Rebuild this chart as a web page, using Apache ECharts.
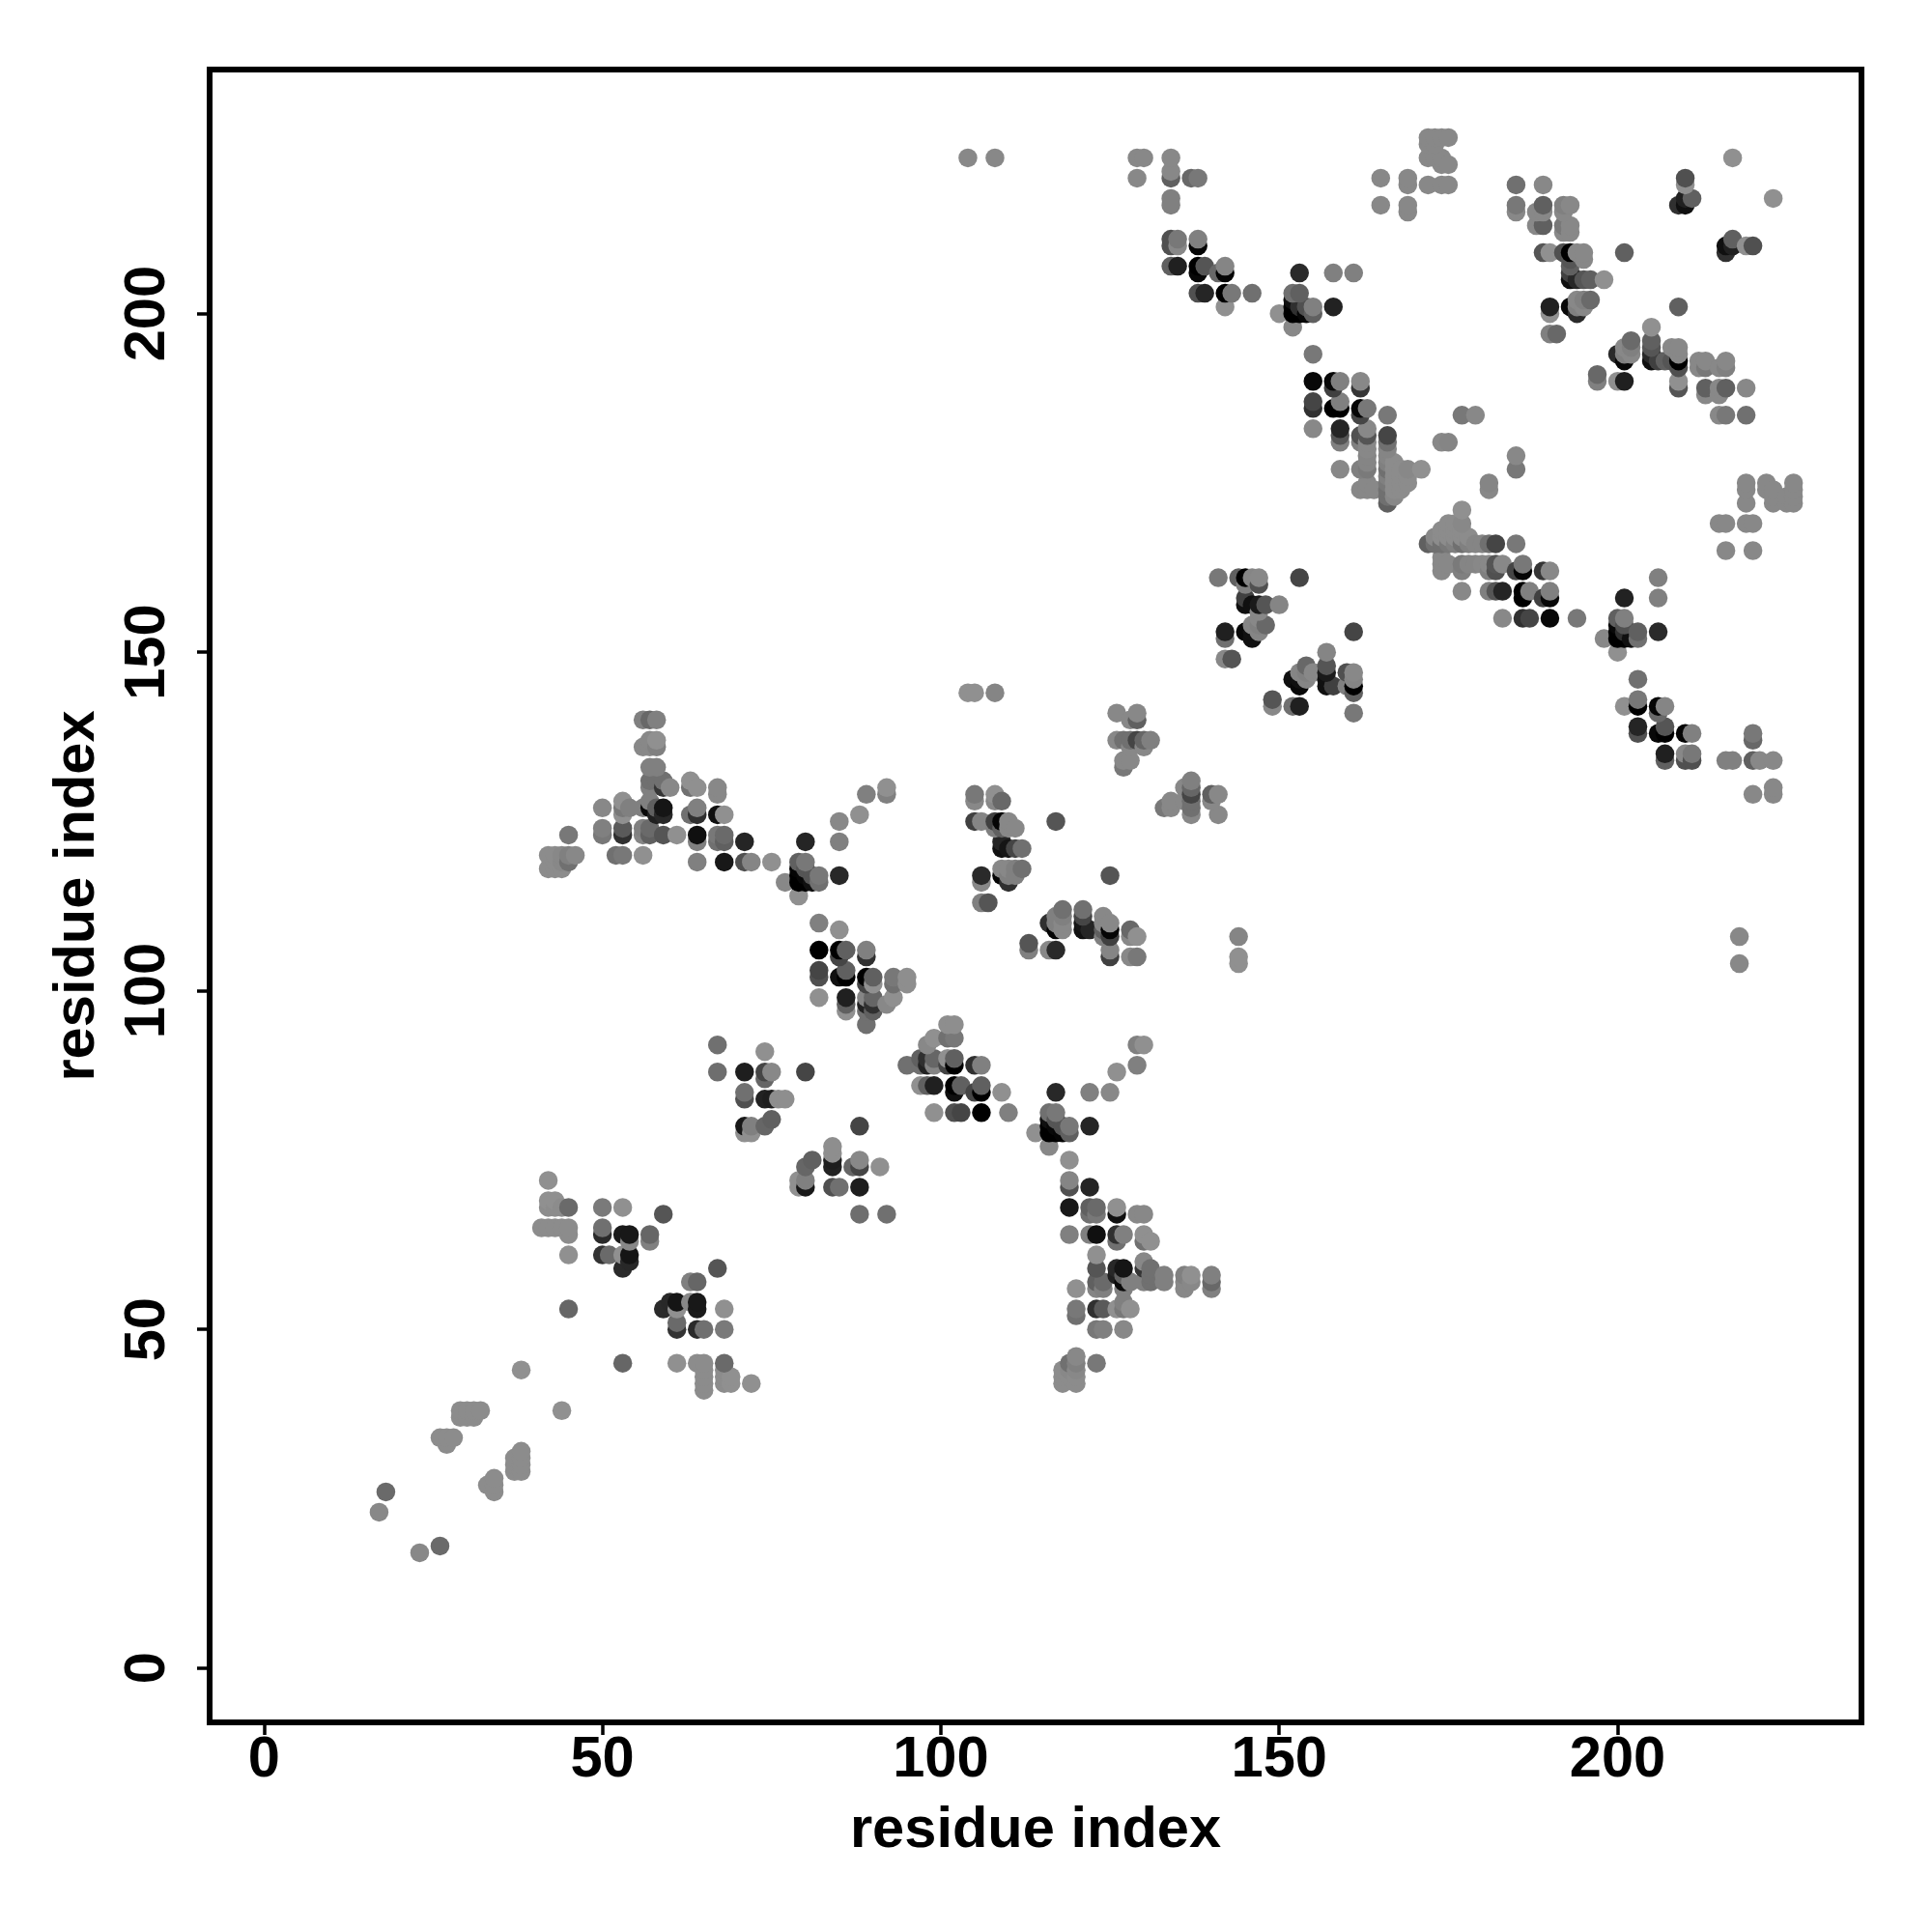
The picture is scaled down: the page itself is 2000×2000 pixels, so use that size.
<!DOCTYPE html>
<html><head><meta charset="utf-8">
<style>html,body{margin:0;padding:0;background:#fff}#c{width:2000px;height:2000px}</style>
<script src="https://cdn.jsdelivr.net/npm/echarts@6/dist/echarts.min.js"></script>
</head><body><div id="c"></div>
<script>
// Contacts [residue a, residue b, grey level]; the map is symmetric, each one is plotted at (a,b) and (b,a).
const axisTicks = [0, 50, 100, 150, 200];
const contactsLow = [[17,23,0x88],[18,26,0x6a],[29,38,0x8c],[30,38,0x8c],[31,38,0x8c],[32,38,0x8c],[29,37,0x8c],[30,37,0x8c],[31,37,0x8c],[26,34,0x8c],[27,34,0x8c],[28,34,0x8c],[27,33,0x8c],[38,44,0x90]];
const contactsA = [[42,72,0x90],[42,69,0x90],[43,69,0x90],[42,68,0x8c],[43,68,0x8c],[44,68,0x8c],[45,68,0x6a],[41,65,0x8c],[42,65,0x8c],[43,65,0x8c],[44,65,0x8c],[45,65,0x8c],[45,64,0x8c],[45,61,0x90],[45,53,0x66],
[50,68,0x7a],[53,68,0x90],[59,67,0x55],[50,65,0x70],[50,64,0x2a],[53,64,0x1a],[54,64,0x18],[54,63,0x88],[57,64,0x66],[57,63,0x80],[50,61,0x33],[51,61,0x6a],[53,61,0x90],[54,61,0x15],[54,60,0x28],[53,59,0x2a]];
const contactsB = [[67,92,0x70],[67,88,0x6e],[74,91,0x90],[71,88,0x1e],[74,88,0x45],[75,88,0x88],[74,87,0x66],[80,88,0x45],[71,85,0x70],[71,84,0x50],[74,84,0x22],[75,84,0x1e],[76,84,0x8e],[77,84,0x8e],[71,80,0x18],[72,80,0x80],[71,79,0x90],[72,79,0x90],[74,80,0x66],[75,81,0x60],
[84,77,0x90],[84,76,0x90],[84,75,0x30],[84,74,0x22],[88,75,0x80],[87,74,0x70],[88,74,0x3a],[91,74,0x90],[81,75,0x66],[80,74,0x66],[80,72,0x70],[79,72,0x90],[80,71,0x15],[79,71,0x90],[84,71,0x60],[85,71,0x7a],[88,71,0x20],[88,67,0x66],[92,67,0x72]];
const contactsC = [[101,95,0x8e],[102,95,0x8e],[101,93,0x70],[102,93,0x78],[99,93,0x90],[98,92,0x88],[95,89,0x70],[97,90,0x60],[97,89,0x70],[98,90,0x30],[98,89,0x22],[99,90,0x66],[99,89,0x85],[101,90,0x90],[102,90,0x60],[101,89,0x44],[102,89,0x00],[105,89,0x30],[106,89,0x80],
[97,86,0x90],[98,86,0x60],[99,86,0x20],[102,86,0x00],[102,85,0x10],[103,86,0x60],[105,85,0x45],[106,86,0x60],[106,85,0x00],[109,85,0x90],[99,82,0x90],[102,82,0x50],[103,82,0x45],[106,82,0x00],[110,82,0x80]];
const contactsD = [[117,85,0x28],[116,82,0x70],[117,82,0x78],[116,81,0x10],[117,81,0x55],[118,80,0x55],[119,80,0x78],[119,79,0x60],[116,80,0x00],[116,79,0x00],[117,79,0x00],[118,79,0x05],[117,80,0x08],[122,80,0x25],[114,79,0x90],[116,77,0x88],[122,85,0x80],[125,85,0x88],[126,88,0x90],[129,89,0x80],[129,92,0x80],[130,92,0x90]];
const contactsE = [[119,75,0x90],[119,72,0x85],[119,71,0x50],[122,71,0x25],[119,68,0x18],[122,68,0x60],[123,68,0x6a],[122,67,0x70],[123,67,0x78],[126,68,0x90],[126,67,0x10],[129,67,0x88],[130,67,0x88],[119,64,0x80],[122,64,0x80],[123,64,0x10],[126,64,0x30],[127,64,0x80],[126,63,0x70],[130,64,0x90],[131,63,0x90],[130,63,0x70],
[123,61,0x90],[123,59,0x55],[126,59,0x28],[127,59,0x15],[130,60,0x88],[131,59,0x70],[130,59,0x35],[131,58,0x70],[131,57,0x70],[130,57,0x80],[133,58,0x80],[133,57,0x80],[136,58,0x80],[137,58,0x90],[136,57,0x88],[137,57,0x88],[136,56,0x88],[140,58,0x80],[140,57,0x68],[140,56,0x80],
[123,57,0x60],[124,57,0x6a],[123,56,0x85],[124,56,0x80],[120,56,0x90],[126,58,0x20],[127,58,0x60],[127,57,0x0a],[128,57,0x80],[127,56,0x80],[120,53,0x78],[120,52,0x70],[123,53,0x30],[124,53,0x5a],[126,53,0x90],[127,54,0x80],[127,53,0x78],[128,53,0x90],[123,50,0x78],[124,50,0x80],[127,50,0x88],[123,45,0x78],
[42,120,0x8c],[43,120,0x8c],[44,120,0x88],[45,120,0x80],[46,120,0x88],[43,119,0x8c],[44,119,0x88],[45,119,0x70],[42,118,0x8c],[43,118,0x8c],[44,118,0x8c]];
const contactsF = [[104,144,0x90],[105,144,0x90],[108,144,0x85],[105,129,0x78],[105,128,0x88],[108,129,0x90],[108,128,0x88],[109,128,0x68],[105,125,0x40],[106,125,0x85],[108,125,0x40],[108,124,0x80],[109,125,0x05],[110,125,0x88],[111,124,0x88],[110,124,0x88],[109,122,0x25],[109,121,0x10],[110,121,0x15],[111,121,0x45],[112,121,0x70],[109,118,0x88],[110,118,0x88],[111,118,0x80],[112,118,0x70],[109,117,0x05],[110,117,0x80],[111,117,0x80],[110,116,0x30],[106,117,0x2a],[106,116,0x88],[106,113,0x80],[107,113,0x55],[117,125,0x55],[109,124,0x60]];
const contactsG = [[126,141,0x88],[128,140,0x88],[129,141,0x88],[129,140,0x60],[126,137,0x88],[127,137,0x70],[128,137,0x70],[129,137,0x45],[130,137,0x66],[131,137,0x80],[130,136,0x88],[128,136,0x88],[127,134,0x88],[128,134,0x88],[127,133,0x78]];
const contactsH = [[141,161,0x78],[144,161,0x60],[145,161,0x00],[146,161,0x85],[147,161,0x88],[147,160,0x50],[145,160,0x80],[145,158,0x40],[145,157,0x10],[146,157,0x10],[147,157,0x1a],[148,157,0x55],[150,157,0x85],[147,156,0x88],[146,154,0x85],[147,154,0x80],[148,154,0x68],[147,153,0x85],[145,153,0x08],[146,152,0x10],[146,153,0x10],[142,153,0x20],[142,152,0x70],[142,149,0x88],[143,149,0x55],[153,161,0x45],
[157,150,0x85],[157,148,0x55],[157,147,0x45],[157,146,0x1a],[157,145,0x10],[158,145,0x33],[154,148,0x70],[153,147,0x88],[154,147,0x88],[155,147,0x88],[152,146,0x15],[153,146,0x88],[154,146,0x88],[153,145,0x10],[160,147,0x66],[161,147,0x88],[161,146,0x85],[160,145,0x80],[161,145,0x00],[161,144,0x50],[161,141,0x78],[149,143,0x50],[149,142,0x78],[152,142,0x88],[153,142,0x1a]];
const contactsI = [[155,190,0x08],[158,190,0x08],[159,190,0x80],[158,189,0x40],[162,190,0x88],[162,189,0x35],[155,187,0x45],[155,186,0x30],[158,186,0x00],[159,186,0x00],[159,187,0x80],[162,186,0x05],[163,186,0x78],[162,185,0x45],[166,185,0x78],[155,183,0x88],[155,194,0x78],[159,183,0x25],[159,182,0x55],[159,181,0x80],[162,182,0x50],[162,181,0x80],[163,183,0x88],[163,182,0x55],[163,181,0x88],[166,182,0x45],[166,181,0x70],[166,180,0x85],[166,179,0x85],[163,180,0x88],[163,179,0x85],[163,178,0x85],[163,177,0x7a],[159,177,0x88],[162,177,0x80],[162,174,0x88],[163,175,0x88],[163,174,0x88],[164,174,0x88]];
const contactsJ = [[166,172,0x60],[166,173,0x70],[166,174,0x70],[166,175,0x78],[166,176,0x80],[166,177,0x70],[166,178,0x80],[167,178,0x8c],[167,177,0x8c],[167,176,0x8c],[167,175,0x8c],[167,174,0x8c],[167,173,0x88],[168,177,0x8c],[168,176,0x8c],[168,175,0x8c],[168,174,0x8c],[169,177,0x88],[169,176,0x8c],[169,175,0x8c],[171,177,0x90],[177,185,0x78],[179,185,0x88],[174,181,0x88],[175,181,0x85]];
const contactsK = [[172,226,0x88],[173,226,0x88],[174,226,0x88],[175,226,0x88],[172,225,0x88],[173,225,0x88],[172,223,0x88],[173,223,0x88],[174,223,0x88],[174,222,0x88],[175,222,0x88],[172,219,0x88],[174,219,0x88],[175,219,0x88],[165,220,0x88],[165,216,0x88],[169,220,0x88],[169,219,0x88],[169,216,0x88],[169,215,0x88]];
const contactsL = [[153,206,0x2a],[152,203,0x70],[153,203,0x60],[152,202,0x10],[152,201,0x00],[152,200,0x00],[153,200,0x00],[154,200,0x08],[154,201,0x50],[153,201,0x30],[155,201,0x80],[155,200,0x60],[150,200,0x90],[152,198,0x88],[158,201,0x22],[158,206,0x80],[161,206,0x80],[146,203,0x70],
[143,203,0x78],[142,203,0x00],[142,201,0x90],[142,206,0x05],[142,207,0x85],[141,206,0x68],[139,203,0x25],[138,203,0x50],[139,207,0x55],[138,206,0x08],[138,207,0x00],[138,210,0x05],[138,211,0x80],[135,207,0x20],[134,207,0x60],[135,210,0x88],[135,211,0x78],[134,210,0x50],[134,211,0x50],[134,216,0x80],[134,217,0x80],[138,220,0x78],[137,220,0x68],[134,220,0x60],[134,221,0x88],[134,223,0x88],[129,220,0x88],[130,223,0x88],[129,223,0x88]];
const contactsM = [[217,223,0x90],[209,216,0x30],[210,216,0x10],[210,217,0x20],[211,217,0x60],[210,219,0x90],[210,220,0x50],[201,209,0x60],
[205,198,0x90],[205,196,0x60],[205,195,0x55],[205,194,0x28],[205,193,0x10],[206,193,0x40],[207,193,0x60],[202,196,0x6a],[201,195,0x88],[202,195,0x80],[200,194,0x2a],[201,194,0x80],[202,194,0x88],[201,193,0x08],[197,191,0x68],[197,190,0x80],[200,190,0x90],[201,190,0x20],[208,195,0x88],[209,195,0x88],[209,194,0x88],[208,193,0x55],[209,193,0x00],[209,192,0x50],[209,190,0x90],[209,189,0x55],
[212,193,0x88],[213,193,0x88],[212,192,0x88],[213,192,0x78],[216,193,0x88],[215,192,0x88],[216,192,0x80],[213,189,0x60],[213,188,0x88],[215,189,0x88],[215,188,0x88],[216,189,0x60],[219,189,0x88],[215,185,0x88],[216,185,0x78],[219,185,0x70]];
const allContacts = [contactsLow, contactsA, contactsB, contactsC, contactsD, contactsE, contactsF, contactsG, contactsH, contactsI, contactsJ, contactsK, contactsL, contactsM];
// Points read from the picture that have no mirror partner: [x, y, grey level]
const unpairedPoints = [[104,223,0x88],[108,223,0x88],[218,104,0x88],[218,108,0x88]];

const seen = new Set(), pts = [];
const add = (x, y, g) => {
  const k = x + ',' + y;
  if (seen.has(k)) return;
  seen.add(k);
  pts.push({ value: [x, y], itemStyle: { color: `rgb(${g},${g},${g})`, opacity: 1 } });
};
allContacts.flat().forEach(([a, b, g]) => { add(a, b, g); add(b, a, g); });
unpairedPoints.forEach(([x, y, g]) => add(x, y, g));
pts.sort((p, q) => (p.value[0] + p.value[1]) - (q.value[0] + q.value[1]) || p.value[0] - q.value[0]);

const font = { fontFamily: 'Liberation Sans', fontWeight: 'bold', fontSize: 59.6, color: '#000' };
const tick = { show: true, length: 13, customValues: axisTicks, lineStyle: { color: '#000', width: 3.5 } };
const chart = echarts.init(document.getElementById('c'), null, { renderer: 'canvas' });
chart.setOption({
  animation: false,
  backgroundColor: '#fff',
  grid: { left: 217, top: 72, width: 1710, height: 1711, show: true, borderColor: '#000', borderWidth: 6, backgroundColor: 'transparent' },
  xAxis: { type: 'value', min: -8.04, max: 236.04, name: 'residue index', nameLocation: 'middle', nameGap: 83, nameTextStyle: font,
    axisLine: { show: false, onZero: false }, splitLine: { show: false }, axisTick: tick,
    axisLabel: { ...font, margin: 10, customValues: axisTicks } },
  yAxis: { type: 'value', min: -8.04, max: 236.04, name: 'residue index', nameLocation: 'middle', nameGap: 106, nameTextStyle: font,
    axisLine: { show: false, onZero: false }, splitLine: { show: false }, axisTick: tick,
    axisLabel: { ...font, margin: 33, rotate: 90, customValues: axisTicks } },
  series: [{ type: 'scatter', data: pts, symbol: 'circle', symbolSize: 19.5, silent: true, emphasis: { disabled: true } }]
});
</script></body></html>
